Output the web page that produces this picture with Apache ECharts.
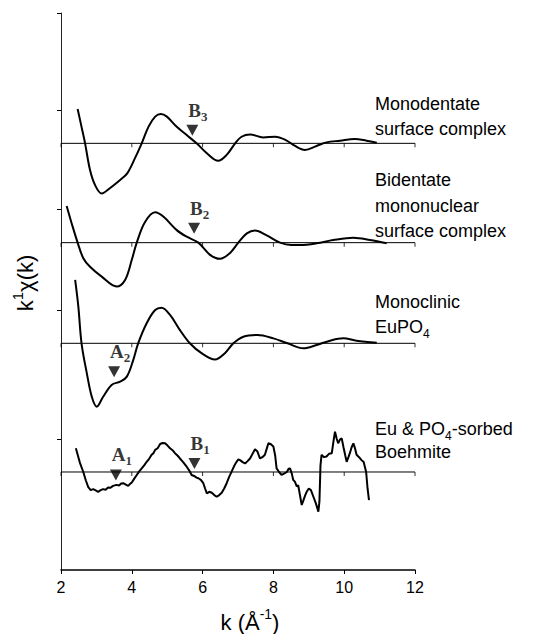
<!DOCTYPE html>
<html>
<head>
<meta charset="utf-8">
<script src="https://cdn.jsdelivr.net/npm/echarts@6/dist/echarts.min.js"></script>
<style>
html,body{margin:0;padding:0;background:#fff;}
#chart{width:533px;height:634px;}
</style>
</head>
<body>
<div id="chart"></div>
<script>
// ---- Data (k in Å^-1, k·chi(k) in arbitrary units, each curve relative to its own baseline) ----
const xTicks = [2, 4, 6, 8, 10, 12];
const baselineK = [2, 12];
const offsets = [12.93, 9.92, 6.87, 2.97];   // vertical offsets of the four stacked spectra
const yMax = 16.88;

const kMono = [2.47,2.58,2.68,2.82,2.96,3.15,3.38,3.67,3.87,4.09,4.28,4.47,4.66,4.82,4.99,5.27,5.55,5.83,6.12,6.44,6.68,6.92,7.10,7.34,7.71,8.05,8.35,8.60,8.89,9.22,9.50,9.88,10.30,10.63,10.92];
const vMono = [1.04,0.50,0,-0.81,-1.26,-1.52,-1.36,-1.11,-0.91,-0.45,0,0.50,0.81,0.89,0.81,0.50,0.25,0,-0.30,-0.53,-0.35,0,0.20,0.27,0.18,0.20,0.10,-0.07,-0.20,-0.08,0.03,0.08,0.13,0.08,0.02];

const kBi = [2.16,2.30,2.47,2.63,2.82,3.15,3.57,3.81,4.00,4.14,4.37,4.66,4.89,5.27,5.55,5.88,6.21,6.49,6.77,7.01,7.25,7.48,7.81,8.19,8.50,8.75,9.22,9.69,10.26,10.73,11.20];
const vBi = [1.11,0.59,0,-0.47,-0.73,-1.03,-1.33,-1.13,-0.52,0,0.62,0.92,0.79,0.38,0.18,0,-0.37,-0.49,-0.32,0,0.28,0.37,0.22,0.0,-0.07,-0.07,-0.02,0.08,0.15,0.08,-0.02];

const kEuPO4 = [2.40,2.49,2.58,2.73,2.87,3.01,3.19,3.43,3.67,3.86,4.04,4.18,4.42,4.66,4.84,5.08,5.36,5.64,5.97,6.35,6.63,6.87,7.15,7.55,8.00,8.40,8.85,9.22,9.60,9.97,10.35,10.92];
const vEuPO4 = [1.92,1.11,0,-0.91,-1.62,-1.92,-1.62,-1.26,-1.16,-1.01,-0.51,0,0.61,1.01,1.08,0.86,0.40,0,-0.30,-0.49,-0.30,0,0.20,0.25,0.15,0.0,-0.15,-0.05,0.08,0.15,0.08,0.02];

const kBoeh = [2.42,2.54,2.63,2.70,2.77,2.84,2.91,2.98,3.05,3.12,3.19,3.26,3.33,3.40,3.47,3.57,3.64,3.70,3.76,3.83,3.90,3.95,4.00,4.07,4.14,4.21,4.28,4.35,4.42,4.49,4.56,4.61,4.66,4.73,4.80,4.87,4.94,5.01,5.08,5.15,5.22,5.29,5.36,5.45,5.55,5.62,5.69,5.76,5.83,5.88,5.95,6.02,6.07,6.12,6.19,6.26,6.33,6.40,6.47,6.54,6.61,6.68,6.75,6.82,6.89,6.96,7.01,7.06,7.13,7.20,7.27,7.34,7.41,7.48,7.55,7.62,7.69,7.76,7.81,7.86,7.93,8.00,8.05,8.09,8.16,8.23,8.30,8.38,8.43,8.47,8.52,8.56,8.61,8.66,8.70,8.75,8.80,8.85,8.90,8.94,9.00,9.06,9.13,9.20,9.27,9.30,9.33,9.36,9.43,9.50,9.57,9.65,9.70,9.74,9.79,9.83,9.88,9.93,9.98,10.03,10.07,10.12,10.16,10.21,10.26,10.31,10.35,10.42,10.49,10.55,10.62,10.66,10.70];
const vBoeh = [0.72,0.26,0,-0.25,-0.46,-0.55,-0.52,-0.56,-0.60,-0.55,-0.52,-0.54,-0.47,-0.48,-0.42,-0.39,-0.41,-0.35,-0.34,-0.38,-0.42,-0.36,-0.32,-0.20,-0.09,0.02,0.11,0.20,0.31,0.40,0.52,0.57,0.67,0.72,0.85,0.88,0.87,0.80,0.72,0.66,0.57,0.50,0.41,0.30,0.16,0.05,-0.09,-0.12,-0.17,-0.19,-0.24,-0.34,-0.50,-0.65,-0.60,-0.63,-0.70,-0.75,-0.70,-0.63,-0.50,-0.34,-0.15,0.01,0.18,0.31,0.38,0.36,0.30,0.26,0.33,0.41,0.55,0.69,0.62,0.41,0.45,0.52,0.70,0.87,0.84,0.77,0.50,0.11,0.00,-0.09,-0.05,0.00,0.10,0.11,-0.05,-0.24,-0.30,-0.44,-0.40,-0.70,-1.00,-0.85,-0.70,-0.60,-0.50,-0.55,-0.75,-0.95,-1.20,-0.90,0.20,0.52,0.45,0.47,0.55,0.57,0.95,1.22,1.00,0.87,0.98,1.02,0.75,0.50,0.31,0.45,0.57,0.75,0.87,0.70,0.52,0.45,0.36,0.30,0.00,-0.50,-0.85];

// Feature markers (downward triangles) : letter, subscript, k position, curve index, value rel. to baseline
const markLetter = ['B', 'B', 'A', 'A', 'B'];
const markSub = ['3', '2', '2', '1', '1'];
const markK = [5.71, 5.76, 3.50, 3.55, 5.77];
const markCurve = [0, 1, 2, 3, 3];
const markV = [0.40, 0.44, -0.86, -0.09, 0.26];

// Right-hand curve labels
const labelLines = [
  ['Monodentate', 'surface complex'],
  ['Bidentate', 'mononuclear', 'surface complex'],
  ['Monoclinic', '{t|EuPO}{s|4}'],
  ['{t|Eu & PO}{s|4}{t|-sorbed}', 'Boehmite']
];

// ---- Build ----
const curvesK = [kMono, kBi, kEuPO4, kBoeh];
const curvesV = [vMono, vBi, vEuPO4, vBoeh];
const smoothOf = [0.35, 0.35, 0.35, false];

const series = [];
offsets.forEach((off, i) => {
  series.push({
    type: 'line', data: baselineK.map(k => [k, off]), symbol: 'none', silent: true,
    lineStyle: {color: '#000', width: 1}, z: 1, animation: false
  });
  series.push({
    type: 'scatter', data: xTicks.map(k => [k, off]), symbol: 'rect', symbolSize: [1, 4],
    symbolOffset: [0, 2], itemStyle: {color: '#000'}, silent: true, z: 1, animation: false
  });
  series.push({
    type: 'line', data: curvesK[i].map((k, j) => [k, curvesV[i][j] + off]),
    symbol: 'none', smooth: smoothOf[i], lineStyle: {color: '#000', width: 2}, z: 3, animation: false
  });
});

series.push({
  type: 'scatter', z: 5, animation: false,
  data: markK.map((k, i) => ({
    value: [k, markV[i] + offsets[markCurve[i]]],
    label: {formatter: '{b|' + markLetter[i] + '}{s|' + markSub[i] + '}'}
  })),
  symbol: 'triangle', symbolRotate: 180, symbolSize: [12, 11],
  itemStyle: {color: '#000'},
  label: {
    show: true, position: [2, -24], align: 'left', verticalAlign: 'top',
    rich: {
      b: {fontFamily: 'Liberation Serif', fontWeight: 'bold', fontSize: 19, color: '#000', lineHeight: 22, verticalAlign: 'top'},
      s: {fontFamily: 'Liberation Serif', fontWeight: 'bold', fontSize: 13, color: '#000', lineHeight: 13, verticalAlign: 'bottom'}
    }
  }
});

const labelY = [[103.5, 129], [180, 206, 231], [302, 327], [429, 452]];
const richSans = {
  t: {fontFamily: 'Liberation Sans', fontSize: 18, color: '#000', lineHeight: 22, verticalAlign: 'top'},
  s: {fontFamily: 'Liberation Sans', fontSize: 12, color: '#000', lineHeight: 12, verticalAlign: 'bottom'}
};
const graphics = [];
labelLines.forEach((lines, i) => {
  lines.forEach((txt, j) => {
    const rich = txt.indexOf('{') === 0;
    graphics.push({
      type: 'text', x: 375, y: labelY[i][j] + (rich ? 2 : 0),
      style: {
        text: txt, fill: '#000', font: '18px "Liberation Sans"',
        textAlign: 'left', textVerticalAlign: 'middle', rich: richSans
      }
    });
  });
});
graphics.push({
  type: 'text', x: 23, y: 283, rotation: Math.PI / 2,
  style: {
    text: '{t|k}{p|1}{t|χ(k)}', textAlign: 'center', textVerticalAlign: 'middle',
    rich: {
      t: {fontFamily: 'Liberation Sans', fontSize: 22, color: '#000', lineHeight: 26, verticalAlign: 'bottom'},
      p: {fontFamily: 'Liberation Sans', fontSize: 15, color: '#000', lineHeight: 15, verticalAlign: 'top'}
    }
  }
});
graphics.push({
  type: 'text', x: 250, y: 620,
  style: {
    text: '{t|k (Å}{p|-1}{t|)}', textAlign: 'center', textVerticalAlign: 'middle',
    rich: {
      t: {fontFamily: 'Liberation Sans', fontSize: 22, color: '#000', lineHeight: 26, verticalAlign: 'bottom'},
      p: {fontFamily: 'Liberation Sans', fontSize: 14, color: '#000', lineHeight: 14, verticalAlign: 'top'}
    }
  }
});

const chart = echarts.init(document.getElementById('chart'), null, {renderer: 'svg'});
chart.setOption({
  animation: false,
  backgroundColor: '#fff',
  grid: {left: 61, right: 118, top: 13, bottom: 64, containLabel: false},
  xAxis: {
    type: 'value', min: 2, max: 12, interval: 2,
    axisLine: {lineStyle: {color: '#000', width: 1.5}},
    axisTick: {show: true, inside: false, length: 4, lineStyle: {color: '#000'}},
    axisLabel: {color: '#000', fontSize: 16, fontFamily: 'Liberation Sans', margin: 9},
    splitLine: {show: false}
  },
  yAxis: {
    type: 'value', min: 0, max: yMax,
    axisLine: {show: true, lineStyle: {color: '#222', width: 1}},
    axisTick: {show: true, length: 4, lineStyle: {color: '#000'},
      customValues: offsets.map(o => o + 1).concat([yMax])},
    axisLabel: {show: false},
    splitLine: {show: false}
  },
  graphic: graphics,
  series: series
});
</script>
</body>
</html>
